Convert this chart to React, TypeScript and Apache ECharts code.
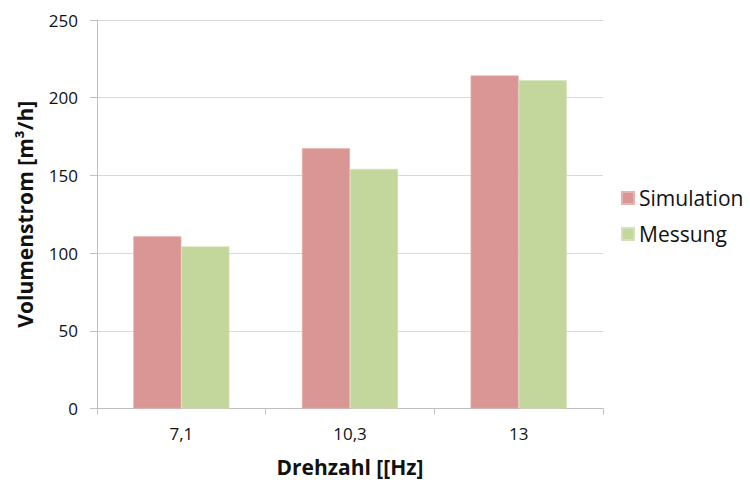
import React, { useEffect, useRef } from "react";
import * as echarts from "echarts";

const categories = ["7,1", "10,3", "13"];
const simulation = [110.8, 167.5, 214.3];
const messung = [104.3, 154.2, 211.3];
const seriesNames = ["Simulation", "Messung"];
const yTitle = "Volumenstrom [m³/h]";
const xTitle = "Drehzahl [[Hz]";

const FONT = "'Open Sans', 'Noto Sans', sans-serif";

export default function App() {
  const ref = useRef<HTMLDivElement>(null);
  useEffect(() => {
    if (!ref.current) return;
    const chart = echarts.init(ref.current, undefined, { renderer: "svg" });
    chart.setOption({
      animation: false,
      backgroundColor: "#ffffff",
      textStyle: { fontFamily: FONT },
      grid: { left: 97, right: 147, top: 20, bottom: 70, containLabel: false },
      legend: {
        orient: "vertical",
        left: 621,
        top: 186,
        padding: 0,
        icon: "rect",
        itemWidth: 12,
        itemHeight: 12,
        itemGap: 12,
        textStyle: { fontFamily: FONT, fontSize: 21, color: "#111", lineHeight: 24, padding: [0, 0, 0, 0] },
        data: seriesNames,
      },
      xAxis: {
        type: "category",
        data: categories,
        name: xTitle,
        nameLocation: "middle",
        nameGap: 58,
        nameTextStyle: { fontFamily: FONT, fontSize: 21, fontWeight: "bold", color: "#111", verticalAlign: "middle" },
        axisLine: { show: true, lineStyle: { color: "#BFBFBF", width: 1 } },
        axisTick: { show: true, length: 6, alignWithLabel: false, lineStyle: { color: "#BFBFBF" } },
        axisLabel: { fontFamily: FONT, fontSize: 17, color: "#111", margin: 16 },
        splitLine: { show: false },
      },
      yAxis: {
        type: "value",
        min: 0,
        max: 250,
        interval: 50,
        name: yTitle,
        nameLocation: "middle",
        nameGap: 72,
        nameRotate: 90,
        nameTextStyle: { fontFamily: FONT, fontSize: 21, fontWeight: "bold", color: "#111", verticalAlign: "middle" },
        axisLine: { show: true, lineStyle: { color: "#BFBFBF", width: 1 } },
        axisTick: { show: true, length: 7, lineStyle: { color: "#BFBFBF" } },
        axisLabel: { fontFamily: FONT, fontSize: 17, color: "#111", margin: 19 },
        splitLine: { show: true, lineStyle: { color: "#D9D9D9", width: 1 } },
      },
      series: [
        {
          name: seriesNames[0],
          type: "bar",
          data: simulation,
          barGap: "0%",
          barCategoryGap: "43%",
          itemStyle: { color: "#D99694", borderColor: "#E6B3B1", borderWidth: 0.6 },
        },
        {
          name: seriesNames[1],
          type: "bar",
          data: messung,
          barGap: "0%",
          barCategoryGap: "43%",
          itemStyle: { color: "#C3D69B", borderColor: "#D5E3B8", borderWidth: 0.6 },
        },
      ],
    });
    return () => chart.dispose();
  }, []);
  return <div ref={ref} style={{ width: 750, height: 482, position: "absolute", left: 0, top: 0 }} />;
}
